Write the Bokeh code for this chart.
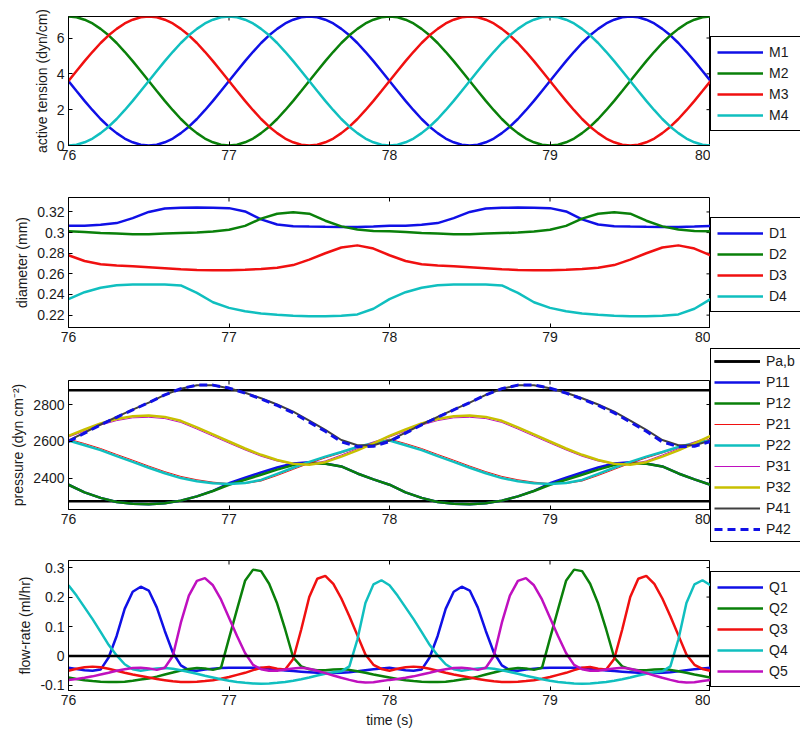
import math
from bokeh.plotting import figure
from bokeh.models import (Range1d, FixedTicker, PrintfTickFormatter,
                          Legend, LegendItem, Span)
from bokeh.layouts import column, row
from bokeh.embed import file_html
from bokeh.resources import INLINE

FONT = "Liberation Sans"
TEXT = "#1a1a1a"

# ---------------- data ----------------
TIME_FINE = [round(76 + 0.05 * i, 2) for i in range(81)]
TIME_COARSE = [round(76 + 0.1 * i, 1) for i in range(41)]
X_TICKS = [76, 77, 78, 79, 80]

# active tension (dyn/cm), sampled every 0.05 s
M1 = [3.6, 3.04, 2.49, 1.97, 1.48, 1.05, 0.69, 0.39, 0.18, 0.04, 0.0, 0.04, 0.18, 0.39, 0.69, 1.05, 1.48, 1.97, 2.49, 3.04,
      3.6, 4.16, 4.71, 5.23, 5.72, 6.15, 6.51, 6.81, 7.02, 7.16, 7.2, 7.16, 7.02, 6.81, 6.51, 6.15, 5.72, 5.23, 4.71, 4.16,
      3.6, 3.04, 2.49, 1.97, 1.48, 1.05, 0.69, 0.39, 0.18, 0.04, 0.0, 0.04, 0.18, 0.39, 0.69, 1.05, 1.48, 1.97, 2.49, 3.04,
      3.6, 4.16, 4.71, 5.23, 5.72, 6.15, 6.51, 6.81, 7.02, 7.16, 7.2, 7.16, 7.02, 6.81, 6.51, 6.15, 5.72, 5.23, 4.71, 4.16,
      3.6]
M2 = [7.2, 7.16, 7.02, 6.81, 6.51, 6.15, 5.72, 5.23, 4.71, 4.16, 3.6, 3.04, 2.49, 1.97, 1.48, 1.05, 0.69, 0.39, 0.18, 0.04,
      0.0, 0.04, 0.18, 0.39, 0.69, 1.05, 1.48, 1.97, 2.49, 3.04, 3.6, 4.16, 4.71, 5.23, 5.72, 6.15, 6.51, 6.81, 7.02, 7.16,
      7.2, 7.16, 7.02, 6.81, 6.51, 6.15, 5.72, 5.23, 4.71, 4.16, 3.6, 3.04, 2.49, 1.97, 1.48, 1.05, 0.69, 0.39, 0.18, 0.04,
      0.0, 0.04, 0.18, 0.39, 0.69, 1.05, 1.48, 1.97, 2.49, 3.04, 3.6, 4.16, 4.71, 5.23, 5.72, 6.15, 6.51, 6.81, 7.02, 7.16,
      7.2]
M3 = [3.6, 4.16, 4.71, 5.23, 5.72, 6.15, 6.51, 6.81, 7.02, 7.16, 7.2, 7.16, 7.02, 6.81, 6.51, 6.15, 5.72, 5.23, 4.71, 4.16,
      3.6, 3.04, 2.49, 1.97, 1.48, 1.05, 0.69, 0.39, 0.18, 0.04, 0.0, 0.04, 0.18, 0.39, 0.69, 1.05, 1.48, 1.97, 2.49, 3.04,
      3.6, 4.16, 4.71, 5.23, 5.72, 6.15, 6.51, 6.81, 7.02, 7.16, 7.2, 7.16, 7.02, 6.81, 6.51, 6.15, 5.72, 5.23, 4.71, 4.16,
      3.6, 3.04, 2.49, 1.97, 1.48, 1.05, 0.69, 0.39, 0.18, 0.04, 0.0, 0.04, 0.18, 0.39, 0.69, 1.05, 1.48, 1.97, 2.49, 3.04,
      3.6]
M4 = [0.0, 0.04, 0.18, 0.39, 0.69, 1.05, 1.48, 1.97, 2.49, 3.04, 3.6, 4.16, 4.71, 5.23, 5.72, 6.15, 6.51, 6.81, 7.02, 7.16,
      7.2, 7.16, 7.02, 6.81, 6.51, 6.15, 5.72, 5.23, 4.71, 4.16, 3.6, 3.04, 2.49, 1.97, 1.48, 1.05, 0.69, 0.39, 0.18, 0.04,
      0.0, 0.04, 0.18, 0.39, 0.69, 1.05, 1.48, 1.97, 2.49, 3.04, 3.6, 4.16, 4.71, 5.23, 5.72, 6.15, 6.51, 6.81, 7.02, 7.16,
      7.2, 7.16, 7.02, 6.81, 6.51, 6.15, 5.72, 5.23, 4.71, 4.16, 3.6, 3.04, 2.49, 1.97, 1.48, 1.05, 0.69, 0.39, 0.18, 0.04,
      0.0]

# diameter (mm), sampled every 0.1 s
D1 = [0.3065, 0.3067, 0.3075, 0.3092, 0.3140, 0.3200, 0.3233, 0.3241, 0.3242, 0.3241,
      0.3237, 0.3205, 0.3128, 0.3078, 0.3062, 0.3058, 0.3056, 0.3055, 0.3055, 0.3058,
      0.3065, 0.3067, 0.3075, 0.3092, 0.3140, 0.3200, 0.3233, 0.3241, 0.3242, 0.3241,
      0.3237, 0.3205, 0.3128, 0.3078, 0.3062, 0.3058, 0.3056, 0.3055, 0.3055, 0.3058,
      0.3065]
D2 = [0.3013, 0.3005, 0.2995, 0.2990, 0.2985, 0.2985, 0.2990, 0.2995, 0.3000, 0.3010,
      0.3027, 0.3065, 0.3135, 0.3183, 0.3198, 0.3183, 0.3115, 0.3060, 0.3030, 0.3016,
      0.3013, 0.3005, 0.2995, 0.2990, 0.2985, 0.2985, 0.2990, 0.2995, 0.3000, 0.3010,
      0.3027, 0.3065, 0.3135, 0.3183, 0.3198, 0.3183, 0.3115, 0.3060, 0.3030, 0.3016,
      0.3013]
D3 = [0.2780, 0.2725, 0.2694, 0.2680, 0.2673, 0.2665, 0.2655, 0.2645, 0.2638, 0.2635,
      0.2636, 0.2640, 0.2648, 0.2660, 0.2685, 0.2738, 0.2800, 0.2855, 0.2876, 0.2845,
      0.2780, 0.2725, 0.2694, 0.2680, 0.2673, 0.2665, 0.2655, 0.2645, 0.2638, 0.2635,
      0.2636, 0.2640, 0.2648, 0.2660, 0.2685, 0.2738, 0.2800, 0.2855, 0.2876, 0.2845,
      0.2780]
D4 = [0.2355, 0.2422, 0.2466, 0.2489, 0.2496, 0.2497, 0.2497, 0.2488, 0.2415, 0.2325,
      0.2270, 0.2237, 0.2216, 0.2204, 0.2195, 0.2190, 0.2190, 0.2195, 0.2207, 0.2262,
      0.2355, 0.2422, 0.2466, 0.2489, 0.2496, 0.2497, 0.2497, 0.2488, 0.2415, 0.2325,
      0.2270, 0.2237, 0.2216, 0.2204, 0.2195, 0.2190, 0.2190, 0.2195, 0.2207, 0.2262,
      0.2355]

# pressure (dyn cm^-2), sampled every 0.1 s
PA = 2277
PB = 2877
P11 = [2366, 2325, 2295, 2273, 2263, 2260, 2266, 2280, 2303, 2333, 2374, 2404, 2432, 2459, 2481, 2488, 2481, 2465, 2427, 2395,
       2366, 2325, 2295, 2273, 2263, 2260, 2266, 2280, 2303, 2333, 2374, 2404, 2432, 2459, 2481, 2488, 2481, 2465, 2427, 2395,
       2366]
P12 = [2366, 2325, 2295, 2273, 2263, 2260, 2266, 2280, 2303, 2332, 2366, 2393, 2420, 2448, 2472, 2482, 2480, 2465, 2427, 2395,
       2366, 2325, 2295, 2273, 2263, 2260, 2266, 2280, 2303, 2332, 2366, 2393, 2420, 2448, 2472, 2482, 2480, 2465, 2427, 2395,
       2366]
P21 = [2613, 2589, 2562, 2530, 2499, 2467, 2437, 2411, 2393, 2380, 2372, 2373, 2386, 2416, 2449, 2482, 2511, 2538, 2567, 2592,
       2613, 2589, 2562, 2530, 2499, 2467, 2437, 2411, 2393, 2380, 2372, 2373, 2386, 2416, 2449, 2482, 2511, 2538, 2567, 2592,
       2613]
P22 = [2605, 2580, 2553, 2521, 2490, 2458, 2428, 2402, 2385, 2374, 2370, 2375, 2392, 2425, 2458, 2490, 2518, 2543, 2570, 2592,
       2605, 2580, 2553, 2521, 2490, 2458, 2428, 2402, 2385, 2374, 2370, 2375, 2392, 2425, 2458, 2490, 2518, 2543, 2570, 2592,
       2605]
P31 = [2624, 2656, 2689, 2713, 2728, 2731, 2724, 2703, 2667, 2629, 2591, 2554, 2520, 2494, 2478, 2476, 2495, 2527, 2561, 2598,
       2624, 2656, 2689, 2713, 2728, 2731, 2724, 2703, 2667, 2629, 2591, 2554, 2520, 2494, 2478, 2476, 2495, 2527, 2561, 2598,
       2624]
P32 = [2630, 2665, 2698, 2722, 2737, 2740, 2733, 2712, 2676, 2638, 2600, 2562, 2528, 2500, 2480, 2474, 2488, 2518, 2552, 2590,
       2630, 2665, 2698, 2722, 2737, 2740, 2733, 2712, 2676, 2638, 2600, 2562, 2528, 2500, 2480, 2474, 2488, 2518, 2552, 2590,
       2630]
P41 = [2605, 2648, 2692, 2733, 2772, 2810, 2852, 2885, 2904, 2904, 2888, 2864, 2834, 2800, 2762, 2713, 2663, 2608, 2580, 2580,
       2605, 2648, 2692, 2733, 2772, 2810, 2852, 2885, 2904, 2904, 2888, 2864, 2834, 2800, 2762, 2713, 2663, 2608, 2580, 2580,
       2605]
P42 = [2600, 2645, 2690, 2731, 2771, 2810, 2852, 2886, 2905, 2905, 2889, 2862, 2830, 2795, 2755, 2705, 2655, 2598, 2572, 2574,
       2600, 2645, 2690, 2731, 2771, 2810, 2852, 2886, 2905, 2905, 2889, 2862, 2830, 2795, 2755, 2705, 2655, 2598, 2572, 2574,
       2600]

# flow-rate (ml/hr), sampled every 0.05 s
ZERO_FLOW = 0.0
Q1 = [-0.040, -0.044, -0.048, -0.050, -0.046, -0.005, 0.068, 0.160, 0.218, 0.235, 0.222, 0.165, 0.085, 0.012, -0.032, -0.048, -0.050, -0.046, -0.043, -0.041,
      -0.040, -0.040, -0.040, -0.040, -0.041, -0.043, -0.046, -0.049, -0.051, -0.053, -0.055, -0.057, -0.058, -0.058, -0.057, -0.055, -0.052, -0.048, -0.045, -0.042,
      -0.040, -0.044, -0.048, -0.050, -0.046, -0.005, 0.068, 0.160, 0.218, 0.235, 0.222, 0.165, 0.085, 0.012, -0.032, -0.048, -0.050, -0.046, -0.043, -0.041,
      -0.040, -0.040, -0.040, -0.040, -0.041, -0.043, -0.046, -0.049, -0.051, -0.053, -0.055, -0.057, -0.058, -0.058, -0.057, -0.055, -0.052, -0.048, -0.045, -0.042,
      -0.040]
Q2 = [-0.073, -0.078, -0.082, -0.085, -0.087, -0.088, -0.088, -0.087, -0.084, -0.080, -0.076, -0.070, -0.063, -0.056, -0.049, -0.044, -0.041, -0.042, -0.047, -0.040,
      0.060, 0.158, 0.255, 0.293, 0.288, 0.245, 0.178, 0.090, -0.005, -0.035, -0.045, -0.048, -0.048, -0.046, -0.045, -0.047, -0.052, -0.057, -0.063, -0.068,
      -0.073, -0.078, -0.082, -0.085, -0.087, -0.088, -0.088, -0.087, -0.084, -0.080, -0.076, -0.070, -0.063, -0.056, -0.049, -0.044, -0.041, -0.042, -0.047, -0.040,
      0.060, 0.158, 0.255, 0.293, 0.288, 0.245, 0.178, 0.090, -0.005, -0.035, -0.045, -0.048, -0.048, -0.046, -0.045, -0.047, -0.052, -0.057, -0.063, -0.068,
      -0.073]
Q3 = [-0.050, -0.043, -0.038, -0.036, -0.038, -0.043, -0.050, -0.057, -0.063, -0.068, -0.073, -0.078, -0.082, -0.086, -0.088, -0.088, -0.087, -0.085, -0.082, -0.077,
      -0.071, -0.064, -0.057, -0.048, -0.040, -0.037, -0.043, -0.046, -0.010, 0.090, 0.200, 0.262, 0.272, 0.245, 0.195, 0.135, 0.070, 0.005, -0.030, -0.044,
      -0.050, -0.043, -0.038, -0.036, -0.038, -0.043, -0.050, -0.057, -0.063, -0.068, -0.073, -0.078, -0.082, -0.086, -0.088, -0.088, -0.087, -0.085, -0.082, -0.077,
      -0.071, -0.064, -0.057, -0.048, -0.040, -0.037, -0.043, -0.046, -0.010, 0.090, 0.200, 0.262, 0.272, 0.245, 0.195, 0.135, 0.070, 0.005, -0.030, -0.044,
      -0.050]
Q4 = [0.240, 0.205, 0.165, 0.125, 0.082, 0.038, 0.002, -0.028, -0.045, -0.050, -0.046, -0.042, -0.041, -0.043, -0.048, -0.054, -0.060, -0.067, -0.073, -0.079,
      -0.084, -0.088, -0.091, -0.093, -0.094, -0.093, -0.091, -0.088, -0.084, -0.079, -0.073, -0.066, -0.060, -0.055, -0.052, -0.035, 0.056, 0.180, 0.243, 0.257,
      0.240, 0.205, 0.165, 0.125, 0.082, 0.038, 0.002, -0.028, -0.045, -0.050, -0.046, -0.042, -0.041, -0.043, -0.048, -0.054, -0.060, -0.067, -0.073, -0.079,
      -0.084, -0.088, -0.091, -0.093, -0.094, -0.093, -0.091, -0.088, -0.084, -0.079, -0.073, -0.066, -0.060, -0.055, -0.052, -0.035, 0.056, 0.180, 0.243, 0.257,
      0.240]
Q5 = [-0.081, -0.078, -0.074, -0.069, -0.063, -0.057, -0.050, -0.045, -0.041, -0.040, -0.042, -0.047, -0.040, 0.000, 0.113, 0.205, 0.255, 0.264, 0.240, 0.192,
      0.130, 0.068, 0.010, -0.030, -0.045, -0.050, -0.050, -0.046, -0.042, -0.040, -0.043, -0.050, -0.058, -0.066, -0.074, -0.081, -0.087, -0.090, -0.089, -0.085,
      -0.081, -0.078, -0.074, -0.069, -0.063, -0.057, -0.050, -0.045, -0.041, -0.040, -0.042, -0.047, -0.040, 0.000, 0.113, 0.205, 0.255, 0.264, 0.240, 0.192,
      0.130, 0.068, 0.010, -0.030, -0.045, -0.050, -0.050, -0.046, -0.042, -0.040, -0.043, -0.050, -0.058, -0.066, -0.074, -0.081, -0.087, -0.090, -0.089, -0.085,
      -0.081]

BLUE, GREEN, RED, CYAN = "#1010e6", "#0a800a", "#f01010", "#10bfbf"
MAGENTA, YELLOW, DARK = "#bf10bf", "#c8c000", "#404040"

FRAME_W = 642
LEGEND_W = 90
LW = 2.5


# ---------------- helpers ----------------
def style_axis(ax, ticks):
    ax.ticker = FixedTicker(ticks=ticks)
    ax.major_tick_in = 4
    ax.major_tick_out = 0
    ax.minor_tick_line_color = None
    ax.major_tick_line_color = "black"
    ax.axis_line_color = "black"
    ax.major_label_text_font = FONT
    ax.major_label_text_font_size = "14px"
    ax.major_label_text_color = TEXT
    ax.axis_label_text_font = FONT
    ax.axis_label_text_font_size = "14px"
    ax.axis_label_text_font_style = "normal"
    ax.axis_label_text_color = TEXT
    ax.major_label_standoff = 4
    ax.axis_label_standoff = 4


def make_panel(y0, y1, y_ticks, y_label, fh, top, bottom, fmt=None, x_label=None):
    p = figure(frame_width=FRAME_W, frame_height=fh,
               x_range=Range1d(76, 80), y_range=Range1d(y0, y1),
               output_backend="svg", toolbar_location=None,
               min_border_left=68, min_border_right=0,
               min_border_top=top, min_border_bottom=bottom)
    p.xgrid.visible = False
    p.ygrid.visible = False
    p.outline_line_color = "black"
    p.outline_line_alpha = 1
    p.background_fill_color = "white"
    p.border_fill_color = "white"
    style_axis(p.xaxis[0], X_TICKS)
    style_axis(p.yaxis[0], y_ticks)
    p.yaxis[0].axis_label = y_label
    if fmt:
        p.yaxis[0].formatter = PrintfTickFormatter(format=fmt)
    if x_label:
        p.xaxis[0].axis_label = x_label
    # mirrored inward tick marks on the top and right edges of the box
    p.ray(x=X_TICKS, y=[y1] * len(X_TICKS), length=4, length_units="screen",
          angle=-math.pi / 2, line_color="black", line_width=1)
    p.ray(x=[80] * len(y_ticks), y=y_ticks, length=4, length_units="screen",
          angle=math.pi, line_color="black", line_width=1)
    return p


def legend_panel(series, canvas_h, padding, y_off):
    """A separate canvas to the right of a panel that carries only its legend.
    The series are drawn again here, outside the visible x range, so the
    legend has renderers of its own with the same line styles."""
    q = figure(width=LEGEND_W, height=canvas_h, x_range=Range1d(0, 1), y_range=Range1d(0, 1),
               output_backend="svg", toolbar_location=None, frame_align=False,
               x_axis_location=None, y_axis_location=None, min_border=0)
    q.xgrid.visible = False
    q.ygrid.visible = False
    q.outline_line_color = None
    q.background_fill_color = "white"
    q.border_fill_color = "white"
    items = []
    for lab, parts in series:
        rs = []
        for xs, ys, style in parts:
            rs.append(q.line(xs, ys, **style))
        items.append(LegendItem(label=lab, renderers=rs))
    leg = Legend(items=items, location=(0, y_off), margin=0, padding=padding, spacing=3,
                 glyph_width=46, glyph_height=18, label_height=18, label_standoff=6,
                 label_width=40,
                 label_text_font=FONT, label_text_font_size="14px", label_text_color=TEXT,
                 border_line_color="black", border_line_alpha=1, border_line_width=1,
                 background_fill_color="white", background_fill_alpha=1)
    q.add_layout(leg, "center")
    return q


def draw(p, series):
    for lab, parts in series:
        for xs, ys, style in parts:
            p.line(xs, ys, **style)


# ---------------- panel 1 ----------------
S1 = [(lab, [(TIME_FINE, ys, dict(line_color=col, line_width=LW))])
      for lab, ys, col in (("M1", M1, BLUE), ("M2", M2, GREEN), ("M3", M3, RED), ("M4", M4, CYAN))]
p1 = make_panel(0, 7.2, [0, 2, 4, 6], "active tension (dyn/cm)", 129, 16, 30)
draw(p1, S1)
l1 = legend_panel(S1, 16 + 129 + 30, 6, 44)

# ---------------- panel 2 ----------------
S2 = [(lab, [(TIME_COARSE, ys, dict(line_color=col, line_width=LW))])
      for lab, ys, col in (("D1", D1, BLUE), ("D2", D2, GREEN), ("D3", D3, RED), ("D4", D4, CYAN))]
p2 = make_panel(0.208, 0.334, [0.22, 0.24, 0.26, 0.28, 0.3, 0.32], "diameter (mm)", 130, 22, 21, fmt="%g")
draw(p2, S2)
l2 = legend_panel(S2, 22 + 130 + 21, 6, 36)

# ---------------- panel 3 ----------------
t_ends = [TIME_COARSE[0], TIME_COARSE[-1]]
black = dict(line_color="black", line_width=LW)
S3 = [("Pa,b", [(t_ends, [PA, PA], black), (t_ends, [PB, PB], black)])]
for lab, ys, col, w, dash in (("P11", P11, BLUE, LW, "solid"), ("P12", P12, GREEN, LW, "solid"),
                              ("P21", P21, RED, 1.0, "solid"), ("P22", P22, CYAN, LW, "solid"),
                              ("P31", P31, MAGENTA, 1.0, "solid"), ("P32", P32, YELLOW, LW, "solid"),
                              ("P41", P41, DARK, 2.0, "solid"), ("P42", P42, BLUE, 3.0, "8 5")):
    S3.append((lab, [(TIME_COARSE, ys, dict(line_color=col, line_width=w, line_dash=dash))]))
p3 = make_panel(2232, 2930, [2400, 2600, 2800], "pressure (dyn cm\u207b\u00b2)", 129, 32, 34)
draw(p3, S3)
l3 = legend_panel(S3, 32 + 129 + 34, 3, 1)

# ---------------- panel 4 ----------------
S4 = [(lab, [(TIME_FINE, ys, dict(line_color=col, line_width=LW))])
      for lab, ys, col in (("Q1", Q1, BLUE), ("Q2", Q2, GREEN), ("Q3", Q3, RED),
                           ("Q4", Q4, CYAN), ("Q5", Q5, MAGENTA))]
p4 = make_panel(-0.117, 0.324, [-0.1, 0, 0.1, 0.2, 0.3], "flow-rate (ml/hr)", 130, 17, 40,
                fmt="%g", x_label="time (s)")
p4.add_layout(Span(location=ZERO_FLOW, dimension="width", line_color="black", line_width=LW))
draw(p4, S4)
l4 = legend_panel(S4, 17 + 130 + 40, 6, 43)

layout = column(row(p1, l1, spacing=0), row(p2, l2, spacing=0),
                row(p3, l3, spacing=0), row(p4, l4, spacing=0), spacing=0)
open("out.html", "w").write(file_html(layout, INLINE))
